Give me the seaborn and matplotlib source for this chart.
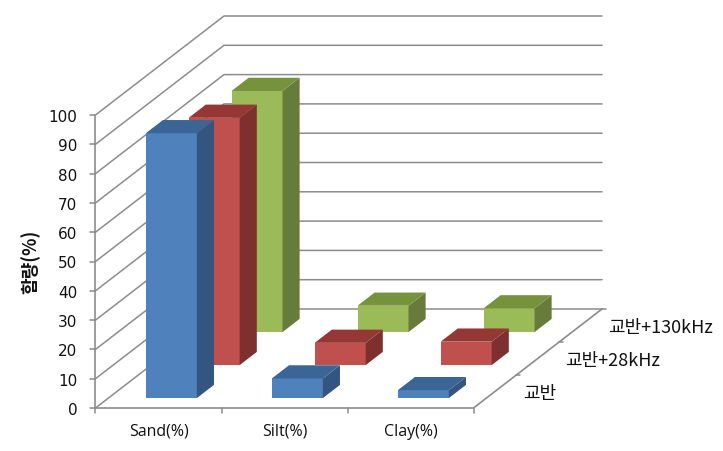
import matplotlib
matplotlib.use("Agg")
import matplotlib.pyplot as plt
import numpy as np
import seaborn as sns

# values
categories = ["Sand(%)", "Silt(%)", "Clay(%)"]
series_names = ["교반", "교반+28kHz", "교반+130kHz"]
stir = [90.4, 6.7, 2.7]
stir_28k = [84.4, 7.6, 8.0]
stir_130k = [82.3, 9.0, 8.1]
y_ticks = list(range(0, 101, 10))

front_colors = ["#4f81bd", "#c0504d", "#9bbb59"]
side_colors = ["#34557f", "#7f2f2d", "#677c3a"]
top_colors = ["#3a6595", "#953735", "#76923c"]

sns.set_style("white")
plt.rcParams["font.family"] = ["Noto Sans CJK KR", "DejaVu Sans"]

# oblique 3d look: one series step in depth, in category / value units
DX = 42.83 / 126
DY = 33 / 2.93
BAR_W = 51 / 126
BAR_D = 0.4
GRID = "#8c8c8c"


def proj(cat, val, depth):
    return cat + depth * DX, val + depth * DY


fig = plt.figure(figsize=(7.23, 4.52), dpi=100)
ax = fig.add_axes([0, 0, 1, 1])

# walls
for v in y_ticks:
    x0, y0 = proj(0, v, 0)
    x1, y1 = proj(0, v, 3)
    x2, y2 = proj(3, v, 3)
    ax.plot([x0, x1, x2], [y0, y1, y2], color=GRID, lw=1.1, zorder=0.5)
    ax.plot([x0 - 5 / 126, x0], [y0, y0], color=GRID, lw=1.1, zorder=0.5)

# floor and axes
x0, y0 = proj(0, 0, 0)
x1, y1 = proj(3, 0, 0)
x2, y2 = proj(3, 0, 3)
ax.plot([x0, x1, x2], [y0, y1, y2], color=GRID, lw=1.2, zorder=0.6)
ax.plot([x0, x0], [0, 100], color=GRID, lw=1.2, zorder=0.6)
for c in range(4):
    ax.plot([c, c], [0, -5 / 2.93], color=GRID, lw=1.1, zorder=0.6)
for d in range(1, 4):
    xd, yd = proj(3, 0, d)
    ax.plot([xd, xd + 4 / 126], [yd, yd], color=GRID, lw=1.1, zorder=0.6)

# bars, back series first
all_values = [stir, stir_28k, stir_130k]
for i in [2, 1, 0]:
    vals = np.array(all_values[i])
    d0 = i + 0.3
    d1 = d0 + BAR_D
    centers = np.arange(3) + 0.5 + d0 * DX
    sns.barplot(x=centers, y=vals, native_scale=True, width=BAR_W, bottom=d0 * DY,
                color=front_colors[i], saturation=1, errorbar=None, linewidth=0,
                zorder=3 - i, ax=ax)
    for j, v in enumerate(vals):
        left = j + 0.5 - BAR_W / 2
        right = j + 0.5 + BAR_W / 2
        side = [proj(right, 0, d0), proj(right, 0, d1), proj(right, v, d1), proj(right, v, d0)]
        top = [proj(left, v, d0), proj(right, v, d0), proj(right, v, d1), proj(left, v, d1)]
        ax.fill(*zip(*side), color=side_colors[i], lw=0, zorder=3 - i)
        ax.fill(*zip(*top), color=top_colors[i], lw=0, zorder=3 - i)

# labels
for v in y_ticks:
    ax.text(-18 / 126, v, str(v), ha="right", va="center_baseline", fontsize=11,
            family="DejaVu Sans", color="#111111")
for j, name in enumerate(categories):
    ax.text(j + 0.5, -23 / 2.93, name, ha="center", va="center", fontsize=11.5,
            family="Open Sans", color="#111111")
label_x = [(523 - 95.5) / 126, (565 - 95.5) / 126, (608 - 95.5) / 126]
label_y = [(408 - 393) / 2.93, (408 - 360) / 2.93, (408 - 327) / 2.93]
for name, lx, ly in zip(series_names, label_x, label_y):
    ax.text(lx, ly, name, ha="left", va="center", fontsize=13, color="#111111")
ax.text(-65 / 126, (408 - 261) / 2.93, "함량(%)", rotation=90, ha="center", va="center",
        fontsize=13, fontweight="bold", color="#111111")

ax.set_xlim(-95.5 / 126, (723 - 95.5) / 126)
ax.set_ylim(-43 / 2.93, 409 / 2.93)
ax.set_axis_off()

fig.savefig("out.png", dpi=100)
